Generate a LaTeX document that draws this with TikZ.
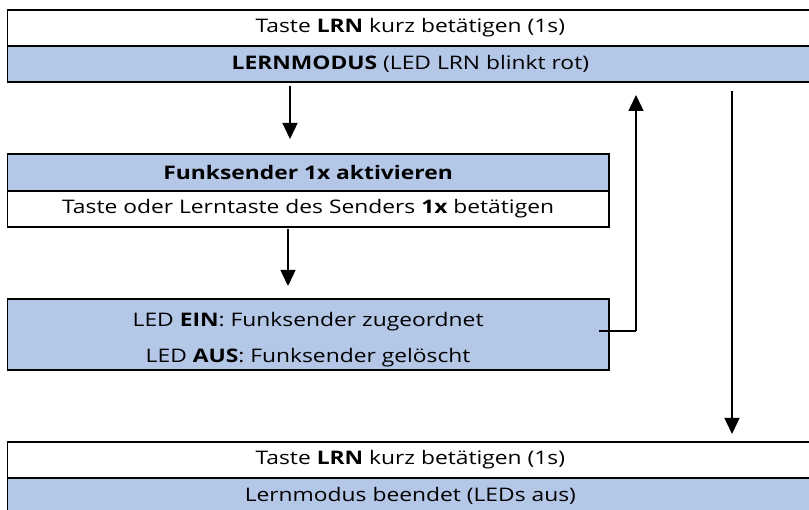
\documentclass[tikz,border=0pt]{standalone}
\usepackage{fontspec}
\setmainfont{Open Sans}[FakeStretch=1.22]
\usetikzlibrary{arrows.meta}
\definecolor{boxblue}{HTML}{B4C7E7}
\begin{document}
\begin{tikzpicture}[x=1pt,y=-1pt,
  row/.style={draw=black,line width=1.7pt,minimum height=36pt,inner sep=0pt,anchor=north west,
    font=\fontsize{18.7}{36}\selectfont,align=center},
  wide/.style={minimum width=806pt},
  narrow/.style={minimum width=601.5pt},
  bluefill/.style={fill=boxblue},
  arr/.style={line width=1.3pt,-{Triangle[width=15pt,length=16pt]}},
  link/.style={line width=1.3pt}]
\useasboundingbox (0,0) rectangle (809,510);
\clip (0,0) rectangle (809,510);
% top boxes
\node[row,wide] (t1) at (6.5,9) {Taste \textbf{LRN} kurz betätigen (1s)};
\node[row,wide,bluefill] (t2) at (6.5,45) {\textbf{LERNMODUS} (LED LRN blinkt rot)};
% Funksender
\node[row,narrow,bluefill,minimum height=37pt] (f1) at (6.5,153) {\textbf{Funksender 1x aktivieren}};
\node[row,narrow] (f2) at (6.5,190) {Taste oder Lerntaste des Senders \textbf{1x} betätigen};
% LED status
\node[row,narrow,bluefill,minimum height=71pt,text height=61pt,text depth=4pt] (led) at (6.5,298) {LED \textbf{EIN}: Funksender zugeordnet\\LED \textbf{AUS}: Funksender gelöscht};
% bottom boxes
\node[row,wide] (b1) at (6.5,441) {Taste \textbf{LRN} kurz betätigen (1s)};
\node[row,wide,bluefill] (b2) at (6.5,477) {Lernmodus beendet (LEDs aus)};
% connectors
\coordinate (a1s) at (290,86);
\coordinate (a1e) at (290,139);
\draw[arr] (a1s) -- (a1e);
\coordinate (a2s) at (288,229);
\coordinate (a2e) at (288,286);
\draw[arr] (a2s) -- (a2e);
\coordinate (r1) at (599,331);
\coordinate (r2) at (636,331);
\coordinate (r3) at (636,95);
\draw[link] (r1) -- (r2);
\draw[arr] (r2) -- (r3);
\coordinate (d1) at (732,91);
\coordinate (d2) at (732,434);
\draw[arr] (d1) -- (d2);
\end{tikzpicture}
\end{document}
